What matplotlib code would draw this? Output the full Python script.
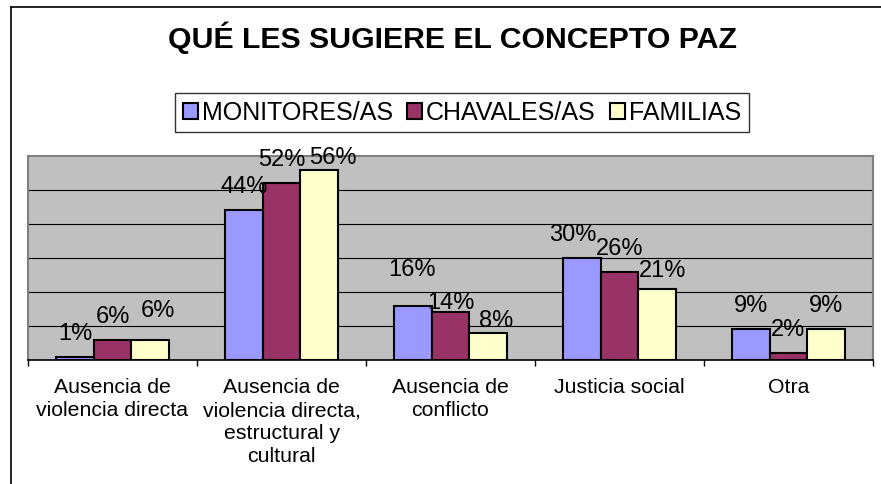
import numpy as np
import matplotlib
matplotlib.use("Agg")
import matplotlib.pyplot as plt
from matplotlib.lines import Line2D

# Data
categories = ["Ausencia de\nviolencia directa",
              "Ausencia de\nviolencia directa,\nestructural y\ncultural",
              "Ausencia de\nconflicto",
              "Justicia social",
              "Otra"]
series_names = ["MONITORES/AS", "CHAVALES/AS", "FAMILIAS"]
monitores = [1, 44, 16, 30, 9]
chavales = [6, 52, 14, 26, 2]
familias = [6, 56, 8, 21, 9]
series_values = [monitores, chavales, familias]

# label nudges (pixels) where the labels were moved by hand in the original
label_nudges = [
    [(0, 0), (0, 0), (-1, 13), (-9, 0), (0, 0)],
    [(0, 0), (0, 0), (0, -14), (0, 0), (0, 0)],
    [(8, 6), (14, -11), (8, -11), (6, -5), (0, 0)],
]

colors = ["#9999FF", "#993366", "#FFFFCC"]

plt.rcParams["font.family"] = ["Liberation Sans", "DejaVu Sans"]

W, H = 881, 484
fig = plt.figure(figsize=(W / 100, H / 100), dpi=100)
fig.patch.set_facecolor("white")

# plot area in pixels: x 28..873, y 156..360
ax = fig.add_axes([28 / W, 1 - 360 / H, (873 - 28) / W, (360 - 156) / H])
ax.set_facecolor("#C0C0C0")

x = np.arange(len(categories))
bw = 1 / 4.5
for j, (name, vals) in enumerate(zip(series_names, series_values)):
    bars = ax.bar(x + (j - 1) * bw, vals, width=bw, color=colors[j],
                  edgecolor="black", linewidth=1.5, label=name, zorder=3)
    for i, (b, v) in enumerate(zip(bars, vals)):
        dx, dy = label_nudges[j][i]
        ax.annotate(f"{v}%", (b.get_x() + b.get_width() / 2, b.get_height()),
                    xytext=(dx, 17 + dy), textcoords="offset pixels",
                    ha="center", va="baseline", fontsize=17, zorder=4)

ax.set_xlim(-0.5, len(categories) - 0.5)
ax.set_ylim(0, 60)
ax.set_yticks(np.arange(10, 60, 10))
ax.yaxis.grid(True, color="black", linewidth=0.8)
ax.set_axisbelow(True)
ax.tick_params(axis="y", length=0, labelleft=False)

ax.set_xticks(x)
ax.set_xticklabels(categories, fontsize=15.3, linespacing=1.27)
ax.tick_params(axis="x", which="major", length=0, pad=13)
ax.set_xticks(np.arange(-0.5, len(categories), 1), minor=True)
ax.tick_params(axis="x", which="minor", length=4.5, width=1, color="black",
               direction="out")

for s in ["left", "top", "right"]:
    ax.spines[s].set_color("#808080")
    ax.spines[s].set_linewidth(1.5)
ax.spines["bottom"].set_color("black")
ax.spines["bottom"].set_linewidth(1.2)

# title
fig.text(452 / W, 1 - 48 / H, "QUÉ LES SUGIERE EL CONCEPTO PAZ",
         ha="center", va="baseline", fontsize=21.8, fontweight="bold")

# legend
leg = fig.legend(loc="center", bbox_to_anchor=(462 / W, 1 - 112.5 / H),
                 ncol=3, fontsize=18, frameon=True, fancybox=False,
                 handlelength=0.62, handleheight=0.62, handletextpad=0.15,
                 columnspacing=0.55, borderpad=0.3, borderaxespad=0)
leg.get_frame().set_edgecolor("black")
leg.get_frame().set_linewidth(1.0)
for p in leg.get_patches():
    p.set_linewidth(1.5)

# outer chart border (left and top visible)
fig.add_artist(Line2D([11 / W, 11 / W], [0, 1 - 7 / H], color="black",
                      linewidth=1.2, transform=fig.transFigure))
fig.add_artist(Line2D([11 / W, 1], [1 - 7 / H, 1 - 7 / H], color="black",
                      linewidth=1.2, transform=fig.transFigure))

fig.savefig("out.png", dpi=100)
